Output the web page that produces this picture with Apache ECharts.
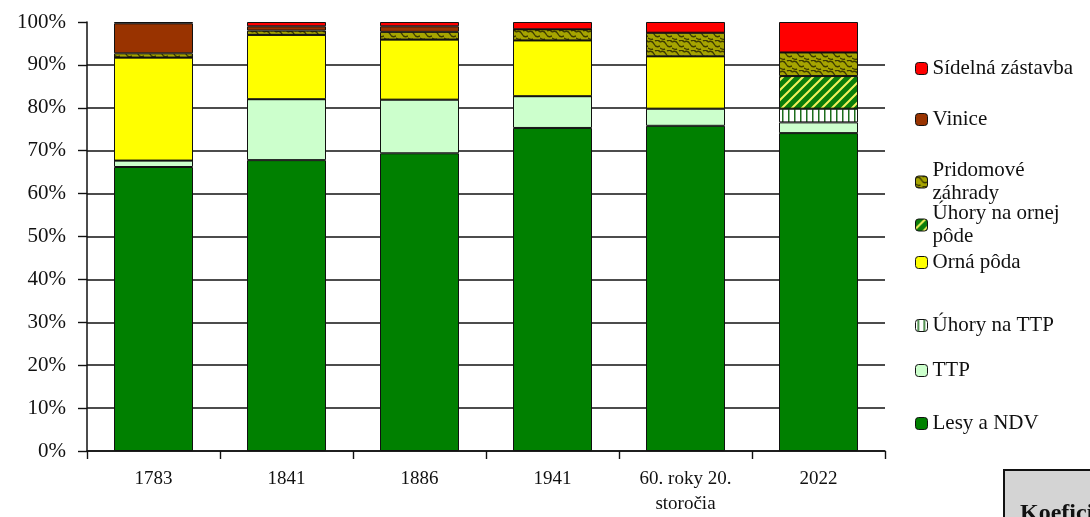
<!DOCTYPE html>
<html>
<head>
<meta charset="utf-8">
<script src="https://cdn.jsdelivr.net/npm/echarts@6/dist/echarts.min.js"></script>
<style>
html, body { margin: 0; padding: 0; background: #fff; }
#mainContent { width: 1090px; height: 517px; }
</style>
</head>
<body>
<div id="mainContent"></div>
<script>
// data (percent share of land use)
var categories = ['1783', '1841', '1886', '1941', '60. roky 20.\nstoročia', '2022'];
var lesy = [66.2, 67.8, 69.4, 75.3, 75.8, 74.1];
var ttp = [1.5, 14.2, 12.5, 7.4, 4.0, 2.5];
var uhoryTtp = [0, 0, 0, 0, 0, 3.2];
var orna = [24.0, 15.0, 14.0, 13.0, 12.2, 0];
var uhoryOrna = [0, 0, 0, 0, 0, 7.6];
var pridomove = [1.0, 1.0, 1.8, 2.6, 5.5, 5.5];
var vinice = [7.0, 1.0, 1.3, 0, 0, 0];
var sidelna = [0.3, 1.0, 1.0, 1.7, 2.5, 7.1];
var yTicks = [0, 10, 20, 30, 40, 50, 60, 70, 80, 90, 100];

var FONT = '"Liberation Serif", "DejaVu Serif", serif';

// small pattern tiles
function tile(w, h, draw) {
    var c = document.createElement('canvas');
    c.width = w; c.height = h;
    draw(c.getContext('2d'));
    return { image: c, repeat: 'repeat' };
}
var patGarden = tile(12, 10, function (g) {
    g.fillStyle = '#a6a400';
    g.fillRect(0, 0, 12, 10);
    g.strokeStyle = '#3d3b00';
    g.lineWidth = 1.4;
    g.beginPath();
    g.moveTo(0, 2); g.quadraticCurveTo(4, 0, 6, 4); g.quadraticCurveTo(8, 8, 12, 6);
    g.moveTo(0, 8); g.quadraticCurveTo(3, 10, 5, 9);
    g.moveTo(7, 1); g.quadraticCurveTo(10, -1, 12, 2);
    g.stroke();
});
var patFallowArable = tile(10, 10, function (g) {
    g.fillStyle = '#0a7d0a';
    g.fillRect(0, 0, 10, 10);
    g.strokeStyle = '#f2f25a';
    g.lineWidth = 2;
    g.beginPath();
    g.moveTo(-2, 12); g.lineTo(12, -2);
    g.moveTo(-7, 7); g.lineTo(3, -3);
    g.moveTo(7, 13); g.lineTo(13, 7);
    g.stroke();
});
var patFallowGrass = tile(6, 6, function (g) {
    g.fillStyle = '#ffffff';
    g.fillRect(0, 0, 6, 6);
    g.fillStyle = '#1e6e1e';
    g.fillRect(2, 0, 1.5, 6);
});

var myChart = echarts.init(document.getElementById('mainContent'), null, { renderer: 'canvas' });

function bar(name, data, color) {
    return {
        name: name,
        type: 'bar',
        stack: 'total',
        barWidth: 79,
        data: data,
        itemStyle: { color: color, borderColor: '#111', borderWidth: 1 }
    };
}

function legendAt(name, top) {
    return {
        data: [name],
        left: 915,
        top: top,
        orient: 'vertical',
        padding: 0,
        itemWidth: 12,
        itemHeight: 12,
        formatter: function (n) {
            if (n === 'Pridomové záhrady') return 'Pridomové\nzáhrady';
            if (n === 'Úhory na ornej pôde') return 'Úhory na ornej\npôde';
            return n;
        },
        textStyle: { fontFamily: FONT, fontSize: 21, color: '#111', lineHeight: 23 },
        itemStyle: { borderColor: '#111', borderWidth: 1 },
        selectedMode: false
    };
}

var option = {
    animation: false,
    backgroundColor: '#fff',
    grid: { left: 87, right: 205, top: 22, bottom: 62 },
    legend: [
        legendAt('Sídelná zástavba', 57),
        legendAt('Vinice', 108),
        legendAt('Pridomové záhrady', 159),
        legendAt('Úhory na ornej pôde', 202),
        legendAt('Orná pôda', 251),
        legendAt('Úhory na TTP', 314),
        legendAt('TTP', 359),
        legendAt('Lesy a NDV', 412)
    ],
    xAxis: {
        type: 'category',
        data: categories,
        axisLine: { lineStyle: { color: '#111', width: 1.5 } },
        axisTick: { show: true, length: 8, lineStyle: { color: '#111', width: 1.4 } },
        axisLabel: { fontFamily: FONT, fontSize: 19, color: '#111', margin: 16, lineHeight: 25 }
    },
    yAxis: {
        type: 'value',
        min: yTicks[0],
        max: yTicks[yTicks.length - 1],
        interval: 10,
        axisLine: { show: true, lineStyle: { color: '#111', width: 1.5 } },
        axisTick: { show: true, length: 9, lineStyle: { color: '#111', width: 1.4 } },
        axisLabel: { fontFamily: FONT, fontSize: 21, color: '#111', margin: 21, formatter: '{value}%' },
        splitLine: { show: true, showMaxLine: false, lineStyle: { color: '#111', width: 1.6 } }
    },
    series: [
        bar('Lesy a NDV', lesy, '#008000'),
        bar('TTP', ttp, '#ccffcc'),
        bar('Úhory na TTP', uhoryTtp, patFallowGrass),
        bar('Orná pôda', orna, '#ffff00'),
        bar('Úhory na ornej pôde', uhoryOrna, patFallowArable),
        bar('Pridomové záhrady', pridomove, patGarden),
        bar('Vinice', vinice, '#993300'),
        bar('Sídelná zástavba', sidelna, '#ff0000')
    ],
    graphic: [{
        type: 'group',
        left: 1003,
        top: 469,
        children: [
            { type: 'rect', shape: { x: 0, y: 0, width: 100, height: 60 }, style: { fill: '#d4d4d4', stroke: '#111', lineWidth: 2 } },
            { type: 'text', style: { x: 16, y: 32, text: 'Koeficient', font: 'bold 24px "Liberation Serif", serif', fill: '#111' } }
        ]
    }]
};

myChart.setOption(option);
</script>
</body>
</html>
